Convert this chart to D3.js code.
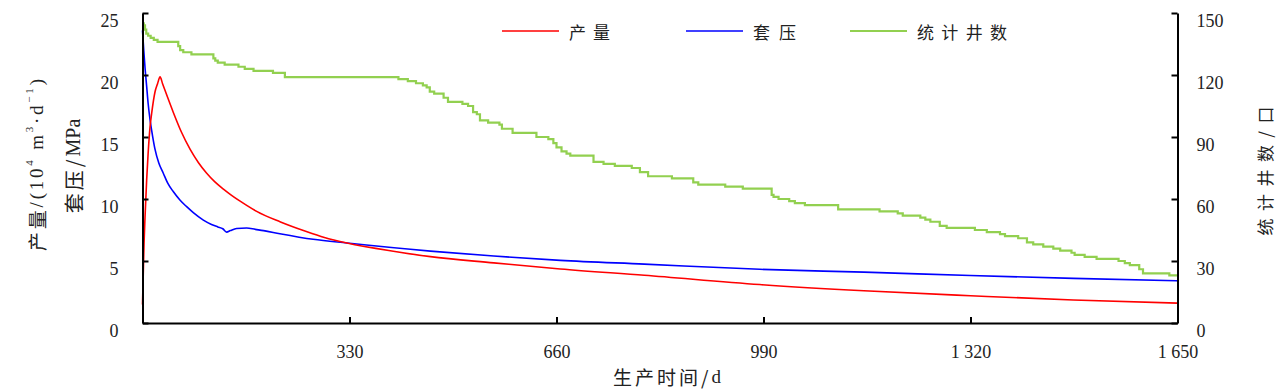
<!DOCTYPE html>
<html><head><meta charset="utf-8">
<script src="https://cdn.jsdelivr.net/npm/d3@7/dist/d3.min.js"></script>
<style>
html,body{margin:0;padding:0;background:#fff;}
svg{display:block;}
</style></head>
<body><svg id="c" width="1280" height="390"></svg>
<script>
// ---- data ----
const prodDays = [0,1,2.5,4,6.6,9,12,14.6,20,24,28,32,40,49,62,76,89,102,115,129,142,155,168,182,220,260,290,326,405,459,560,666,800,984,1150,1320,1484,1650];
const prodValues = [1.5,3.5,6.5,8.5,11.5,13.7,15.8,16.9,18.65,19.3,19.85,19.3,18.2,17.0,15.4,14.0,12.95,12.1,11.4,10.8,10.3,9.85,9.43,9.0,8.15,7.4,6.9,6.45,5.75,5.35,4.85,4.35,3.85,3.1,2.6,2.2,1.85,1.6];
const pressDays = [0,2,4,6.6,9,12,16,20,26,33,40,49,60,70,81,97,110,120,128,134,140,150,166,180,193,219,272,326,459,560,666,800,984,1150,1320,1484,1650];
const pressValues = [23.6,22.0,20.6,19.1,17.7,16.4,15.1,14.0,12.9,12.1,11.3,10.6,9.9,9.4,8.9,8.3,7.95,7.75,7.6,7.33,7.45,7.62,7.66,7.55,7.45,7.2,6.75,6.45,5.8,5.4,5.05,4.75,4.33,4.1,3.83,3.6,3.4];
const wellDays = [0,2,4,6,9,13,18,24,57,60,65,78,81,113,116,120,131,153,163,177,208,227,408,423,436,447,453,458,465,480,487,510,519,527,533,538,551,569,573,590,628,647,655,660,668,676,682,719,735,753,780,793,806,844,878,886,929,957,1003,1006,1014,1031,1040,1056,1109,1175,1204,1212,1240,1248,1256,1271,1282,1327,1346,1367,1375,1396,1410,1420,1436,1452,1463,1481,1486,1502,1521,1556,1566,1574,1589,1595,1637,1650];
const wellCounts = [145,144,142,140,139,138,137,136,134,132,131,130,130,128,127,126,125,124,123,122,121,119,118,117,116,115,114,112,111,109,107,106,105,102,101,98,97,96,94,92,90,89,87,85,83,82,81,78,77,76,75,73,71,70,68,67,66,65,62,61,60,59,58,57,55,54,53,52,51,50,49,47,46,45,44,43,42,41,39,38,37,36,35,34,33,32,31,30,29,28,26,24,23,23];
const xTicks = [330,660,990,1320,1650];
const yLeftTicks = [0,5,10,15,20,25];
const yRightTicks = [0,30,60,90,120,150];
const seriesNames = ["产量","套压","统计井数"];
const seriesColors = ["#ff0000","#0000ff","#92d050"];

// ---- layout ----
const L = 142.5, R = 1177.5, T = 13, B = 323;
const svg = d3.select("#c");
const x = d3.scaleLinear().domain([0,1650]).range([L,R]);
const yL = d3.scaleLinear().domain([0,25]).range([B,T]);
const yR = d3.scaleLinear().domain([0,150]).range([B,T]);
const numFont = "'Liberation Serif','Times New Roman',serif";
const cjkFont = "'Noto Sans CJK SC','Liberation Serif',serif";

// lines
const toPts = (xs, ys) => xs.map((d,i)=>[d, ys[i]]);
const lineL = d3.line().x(d=>x(d[0])).y(d=>yL(d[1])).curve(d3.curveMonotoneX);
const lineR = d3.line().x(d=>x(d[0])).y(d=>yR(d[1])).curve(d3.curveStepAfter);

svg.append("path").attr("d", lineR(toPts(wellDays, wellCounts)))
  .attr("fill","none").attr("stroke",seriesColors[2]).attr("stroke-width",2.2);
svg.append("path").attr("d", lineL(toPts(pressDays, pressValues)))
  .attr("fill","none").attr("stroke",seriesColors[1]).attr("stroke-width",1.6);
svg.append("path").attr("d", lineL(toPts(prodDays, prodValues)))
  .attr("fill","none").attr("stroke",seriesColors[0]).attr("stroke-width",1.6);

// axes
function styleAxis(g){
  g.select(".domain").attr("stroke","#000").attr("stroke-width",2);
  g.selectAll(".tick line").attr("stroke","#000").attr("stroke-width",2);
  g.selectAll(".tick text").attr("fill","#222").style("font-family",numFont).style("font-size","18px");
}
const gl = svg.append("g").attr("transform",`translate(${L},0)`)
  .call(d3.axisLeft(yL).tickValues(yLeftTicks).tickSizeInner(-6).tickSizeOuter(0));
styleAxis(gl);
gl.selectAll(".tick text").attr("x",-24).attr("dy","0.35em").attr("y",7);

const gr = svg.append("g").attr("transform",`translate(${R},0)`)
  .call(d3.axisRight(yR).tickValues(yRightTicks).tickSizeInner(-6).tickSizeOuter(0));
styleAxis(gr);
gr.selectAll(".tick text").attr("x",19).attr("dy","0.35em").attr("y",7);

const fmtX = d => d >= 1000 ? String(d).replace(/^(\d)(\d{3})$/,"$1 $2") : String(d);
const gb = svg.append("g").attr("transform",`translate(0,${B})`)
  .call(d3.axisBottom(x).tickValues(xTicks).tickFormat(fmtX).tickSizeInner(-6).tickSizeOuter(0));
styleAxis(gb);
gb.selectAll(".tick text").attr("y",22).attr("dy","0.71em");

// titles
const tx = svg.append("text").attr("x",613).attr("y",376)
  .attr("dominant-baseline","central").style("font-size","19px").attr("fill","#222");
tx.append("tspan").style("font-family",cjkFont).style("letter-spacing","3px").text("生产时间/");
tx.append("tspan").style("font-family",numFont).text("d");

const t1 = svg.append("text").attr("transform","translate(36,165) rotate(-90)").attr("text-anchor","middle")
  .attr("dominant-baseline","central").style("font-size","19px").attr("fill","#222")
  .attr("textLength",172).attr("lengthAdjust","spacing");
t1.append("tspan").style("font-family",cjkFont).text("产量");
t1.append("tspan").style("font-family",numFont).text("/(10");
t1.append("tspan").style("font-family",numFont).style("font-size","11px").attr("dy",-7).text("4");
t1.append("tspan").style("font-family",numFont).attr("dy",7).text(" m");
t1.append("tspan").style("font-family",numFont).style("font-size","11px").attr("dy",-7).text("3");
t1.append("tspan").style("font-family",numFont).attr("dy",7).text("·d");
t1.append("tspan").style("font-family",numFont).style("font-size","11px").attr("dy",-7).text("−1");
t1.append("tspan").style("font-family",numFont).attr("dy",7).text(")");

const t2 = svg.append("text").attr("transform","translate(73,166) rotate(-90)").attr("text-anchor","middle")
  .attr("dominant-baseline","central").style("font-size","20px").attr("fill","#222");
t2.append("tspan").style("font-family",cjkFont).style("letter-spacing","3px").text("套压/");
t2.append("tspan").style("font-family",numFont).text("MPa");

svg.append("text").attr("transform","translate(1264,171) rotate(-90)").attr("text-anchor","middle")
  .attr("dominant-baseline","central").style("font-family",cjkFont).style("font-size","17px").attr("fill","#222")
  .attr("textLength",129).attr("lengthAdjust","spacing")
  .text("统计井数/口");

// legend
const legX = [502, 686, 850];
const legTextW = [41, 43, 90];
seriesNames.forEach((n,i)=>{
  svg.append("line").attr("x1",legX[i]).attr("x2",legX[i]+57).attr("y1",31).attr("y2",31)
    .attr("stroke",seriesColors[i]).attr("stroke-width",i===2?2.2:1.6);
  svg.append("text").attr("x",legX[i]+67).attr("y",31).attr("dominant-baseline","central")
    .style("font-family",cjkFont).style("font-size","17px").attr("fill","#222")
    .attr("textLength",legTextW[i]).attr("lengthAdjust","spacing").text(n);
});
</script>
</body></html>
